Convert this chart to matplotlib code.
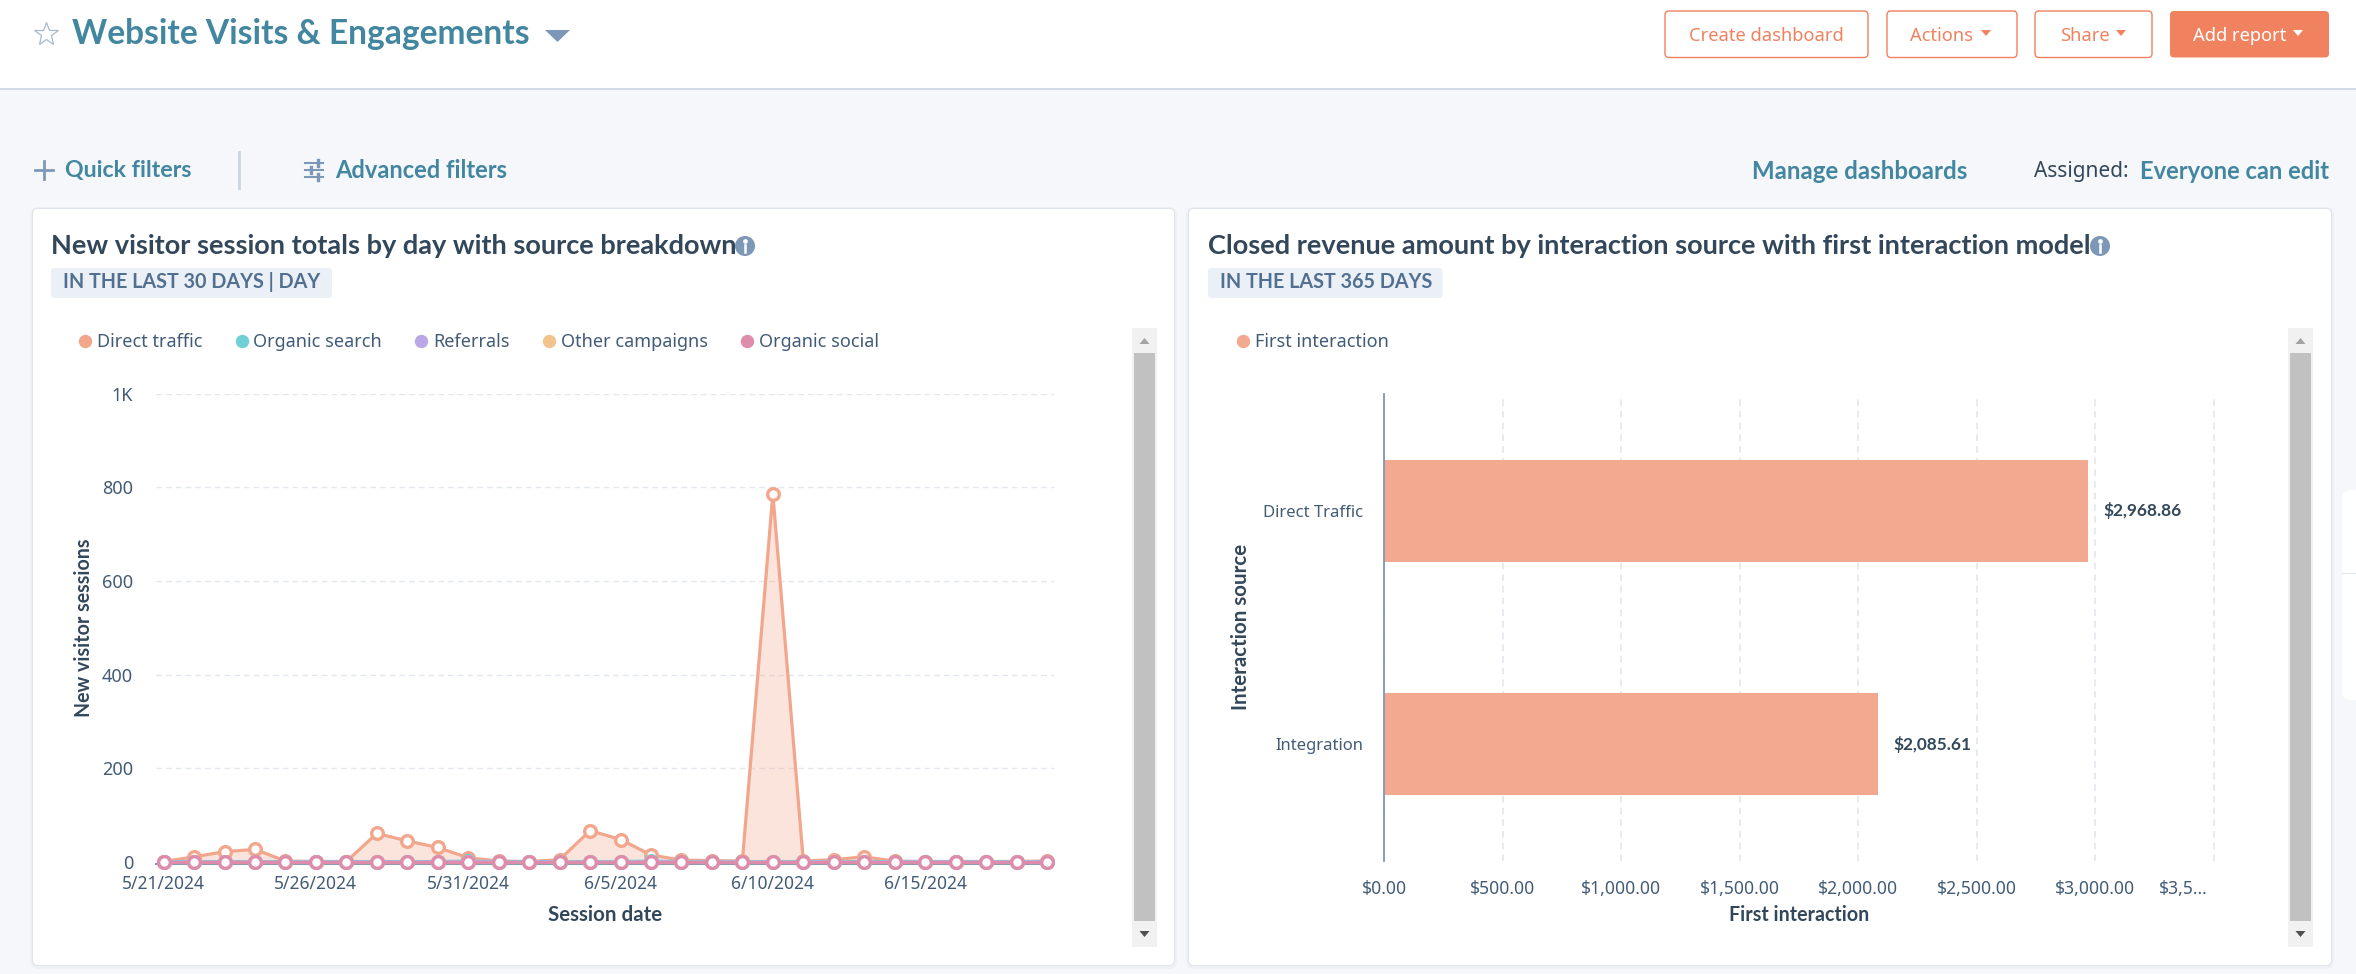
import matplotlib
matplotlib.use("Agg")
import matplotlib.pyplot as plt
from matplotlib.patches import FancyBboxPatch, Rectangle, Circle, Polygon
from matplotlib.lines import Line2D
from matplotlib.transforms import ScaledTranslation

W, H = 2356, 974
FONT = ["Noto Sans", "DejaVu Sans"]
BOLD = ["Lato", "DejaVu Sans"]
plt.rcParams["font.family"] = FONT

# ---- data ----
dates = ["5/21/2024", "5/22/2024", "5/23/2024", "5/24/2024", "5/25/2024", "5/26/2024",
         "5/27/2024", "5/28/2024", "5/29/2024", "5/30/2024", "5/31/2024", "6/1/2024",
         "6/2/2024", "6/3/2024", "6/4/2024", "6/5/2024", "6/6/2024", "6/7/2024",
         "6/8/2024", "6/9/2024", "6/10/2024", "6/11/2024", "6/12/2024", "6/13/2024",
         "6/14/2024", "6/15/2024", "6/16/2024", "6/17/2024", "6/18/2024", "6/19/2024"]
direct_traffic = [1, 11, 22, 27, 2, 1, 1, 61, 45, 31, 9, 2, 1, 5, 67, 48, 15, 4, 3, 2,
                  786, 2, 5, 11, 2, 1, 1, 1, 1, 2]
organic_search = [1, 1, 1, 1, 1, 1, 1, 1, 1, 1, 2, 1, 1, 1, 1, 1, 2, 1, 1, 1,
                  1, 1, 1, 1, 1, 1, 1, 1, 1, 1]
referrals = [0, 0, 0, 0, 0, 0, 0, 0, 0, 0, 1, 0, 0, 0, 0, 0, 1, 0, 0, 0,
             0, 0, 0, 0, 0, 0, 0, 0, 0, 0]
other_campaigns = [0] * 30
organic_social = [0] * 30
series_names = ["Direct traffic", "Organic search", "Referrals", "Other campaigns", "Organic social"]
series_values = [direct_traffic, organic_search, referrals, other_campaigns, organic_social]
series_colors = ["#f2a68c", "#6fd1d6", "#b9a7e6", "#f0c48c", "#dd8cab"]
y_ticks = [0, 200, 400, 600, 800, 1000]
y_tick_labels = ["0", "200", "400", "600", "800", "1K"]

sources = ["Direct Traffic", "Integration"]
revenue = [2968.86, 2085.61]
revenue_labels = ["$2,968.86", "$2,085.61"]
x_ticks = [0, 500, 1000, 1500, 2000, 2500, 3000, 3500]
x_tick_labels = ["$0.00", "$500.00", "$1,000.00", "$1,500.00", "$2,000.00", "$2,500.00", "$3,000.00", "$3,5..."]

# ---- colours ----
TEAL = "#42869f"
DARK = "#33475b"
MID = "#516f90"
TICK = "#425b76"
GRID = "#e3e7ee"
ORANGE = "#f0825f"
SLATE = "#7c98b6"

fig = plt.figure(figsize=(W / 100, H / 100), dpi=100, facecolor="#f5f7fa")
bg = fig.add_axes([0, 0, 1, 1])
bg.set_xlim(0, W)
bg.set_ylim(H, 0)
bg.axis("off")


def rbox(x0, y0, x1, y1, r=4, fc="white", ec="none", lw=0, ax=bg, z=1):
    p = FancyBboxPatch((x0 + r, y0 + r), x1 - x0 - 2 * r, y1 - y0 - 2 * r,
                       boxstyle=f"round,pad={r},rounding_size={r}", fc=fc, ec=ec, lw=lw, zorder=z)
    ax.add_patch(p)


def txt(x, y, s, size, color=DARK, ha="left", va="center", **kw):
    return bg.text(x, y + 2, s, fontsize=size, color=color, ha=ha, va=va, zorder=5, **kw)


def btxt(x, y, s, size, color=DARK, ha="left", **kw):
    return txt(x, y, s, size, color, ha=ha, family=BOLD, fontweight="bold", **kw)


def tri(cx, cy, w, h, color, up=False):
    s = -1 if up else 1
    bg.add_patch(Polygon([(cx - w / 2, cy - s * h / 2), (cx + w / 2, cy - s * h / 2), (cx, cy + s * h / 2)],
                         fc=color, ec="none", zorder=5))


# header
bg.add_patch(Rectangle((0, 0), W, 88, fc="white", ec="none", zorder=1))
bg.plot([0, W], [88.5, 88.5], color="#cbd6e2", lw=1.2, zorder=2)
bg.plot([46], [33.5], marker="*", ms=18, mfc="white", mec="#a9b9cc", mew=0.9, zorder=5)
btxt(72, 32, "Website Visits & Engagements", 24.15, TEAL)
tri(557.5, 36, 25, 12, SLATE)

# buttons
for x0, x1 in [(1665, 1868), (1887, 2017), (2035, 2152)]:
    rbox(x0, 11, x1, 57.5, r=4, fc="white", ec=ORANGE, lw=1.0)
rbox(2170, 11, 2329, 57.5, r=4, fc=ORANGE)
txt(1766.5, 34, "Create dashboard", 13.2, ORANGE, ha="center")
txt(1942, 34, "Actions", 13.2, ORANGE, ha="center")
tri(1986, 33, 10, 6, ORANGE)
txt(2084.5, 34, "Share", 13.2, ORANGE, ha="center")
tri(2121, 33, 10, 6, ORANGE)
txt(2240, 34, "Add report", 13.2, "white", ha="center")
tri(2298, 33, 10, 6, "white")

# filter row
bg.plot([35, 53], [170, 170], color=SLATE, lw=2.0, zorder=5)
bg.plot([44, 44], [161, 179], color=SLATE, lw=2.0, zorder=5)
btxt(65, 168.5, "Quick filters", 16.7, TEAL)
bg.plot([238.5, 238.5], [152, 188], color="#cbd6e2", lw=2, zorder=5)
for yy, xk in [(163, 318), (170, 311), (177, 318)]:
    bg.plot([305, 323], [yy, yy], color=SLATE, lw=1.5, zorder=5)
    bg.plot([xk, xk], [yy - 3, yy + 3], color=SLATE, lw=2.4, zorder=5)
btxt(335, 168.5, "Advanced filters", 17, TEAL)
btxt(1752, 169.5, "Manage dashboards", 17.3, TEAL)
txt(2033.5, 169.5, "Assigned:", 15, DARK)
btxt(2140.5, 169.5, "Everyone can edit", 17.1, TEAL)

# cards
for x0, x1 in [(33, 1174), (1189, 2331)]:
    rbox(x0 - 3, 207, x1 + 3, 969, r=8, fc="#eef0f4", z=1)
    rbox(x0 - 1, 208, x1 + 1, 966, r=6, fc="#dfe3eb", z=1)
    rbox(x0, 209, x1, 965, r=5, fc="white", z=1.5)

# side tab at right edge
rbox(2342, 490, 2380, 700, r=8, fc="white", z=1.5)
bg.plot([2342, W], [573, 573], color="#e3e8ef", lw=1, zorder=2)

# card headers
cards = [(51, "New visitor session totals by day with source breakdown", 745, 51, 332, 63, "IN THE LAST 30 DAYS | DAY"),
         (1208.5, "Closed revenue amount by interaction source with first interaction model", 2100, 1208, 1442.5, 1220,
          "IN THE LAST 365 DAYS")]
for tx, title, icx, bx0, bx1, btx, badge in cards:
    btxt(tx, 243.5, title, 19.5, DARK)
    bg.add_patch(Circle((icx, 246), 10, fc=SLATE, ec="none", zorder=5))
    bg.plot([icx, icx], [245, 252], color="white", lw=1.8, zorder=6)
    bg.plot([icx], [240.5], marker="o", ms=2.4, color="white", zorder=6)
    rbox(bx0, 268, bx1, 298, r=3, fc="#eaf0f6", z=2)
    btxt(btx, 280.5, badge, 14.2, MID)

# scrollbars
for x0, x1 in [(1132, 1157), (2288, 2313)]:
    bg.add_patch(Rectangle((x0, 328), x1 - x0, 619, fc="#f1f1f1", ec="none", zorder=2))
    bg.add_patch(Rectangle((x0 + 2, 353), x1 - x0 - 4, 568, fc="#c1c1c1", ec="none", zorder=3))
    tri((x0 + x1) / 2, 341, 10, 6, "#a3a3a3", up=True)
    tri((x0 + x1) / 2, 934, 10, 6, "#505050")


def px_axes(x0, y0, x1, y1):
    a = fig.add_axes([x0 / W, 1 - y1 / H, (x1 - x0) / W, (y1 - y0) / H])
    a.patch.set_alpha(0)
    for s in a.spines.values():
        s.set_visible(False)
    return a


# ---- left chart ----
ax = px_axes(156, 393.6, 1054, 862)
xs = list(range(len(dates)))
ax.set_xlim(-0.25, 29.23)
ax.set_ylim(0, 1000)
ax.yaxis.grid(True, color=GRID, lw=1.0, ls=(0, (4, 3)))
ax.set_axisbelow(True)
ax.spines["bottom"].set_visible(True)
ax.spines["bottom"].set_color(SLATE)
ax.spines["bottom"].set_linewidth(1.5)
ax.spines["bottom"].set_position(("outward", 1.2))
ax.fill_between(xs, direct_traffic, 0, color=series_colors[0], alpha=0.3, lw=0, zorder=2)
for name, vals, col in zip(series_names, series_values, series_colors):
    ax.plot(xs, vals, color=col, lw=2.3, marker="o", ms=8.4, mfc="white", mec=col, mew=2.4,
            clip_on=False, zorder=3, label=name)
ax.set_xticks(xs[::5], dates[::5])
ax.set_yticks(y_ticks, y_tick_labels)
ax.tick_params(axis="y", length=0, labelsize=13, labelcolor=TICK, pad=16.5)
ax.tick_params(axis="x", length=0, labelsize=12.5, labelcolor=TICK, pad=8.5)
ax.set_xlabel("Session date", fontsize=14.8, fontweight="bold", family=BOLD, color=DARK, labelpad=8.5)
ax.set_ylabel("New visitor sessions", fontsize=14.1, fontweight="bold", family=BOLD, color=DARK, labelpad=6)
leg = ax.legend(*[list(t) for t in zip(*[(Line2D([], [], ls="none", marker="o", ms=8.6, mfc=c, mec=c), n)
                                         for n, c in zip(series_names, series_colors)])],
                ncols=5, frameon=False, fontsize=13, labelcolor=TICK, handletextpad=0.15, handlelength=1.0,
                columnspacing=1.68, loc="lower left", bbox_to_anchor=(76 / W, 1 - 351 / H),
                bbox_transform=fig.transFigure, borderaxespad=0, borderpad=0)

# ---- right chart ----
ax2 = px_axes(1384, 394, 2240, 861)
ypos = [0, 1]
ax2.set_xlim(0, 856 / 118.5 * 500)
ax2.set_ylim(1.5, -0.5)
ax2.xaxis.grid(True, color=GRID, lw=1.2, ls=(0, (4, 3)))
ax2.set_axisbelow(True)
ax2.spines["left"].set_visible(True)
ax2.spines["left"].set_color(SLATE)
ax2.spines["left"].set_linewidth(1.3)
bars = ax2.barh(ypos, revenue, height=0.437, color="#f2a990", zorder=2, label="First interaction")
ax2.set_yticks(ypos, sources)
ax2.set_xticks(x_ticks, x_tick_labels)
ax2.tick_params(axis="x", length=0, labelsize=12.6, labelcolor=TICK, pad=14)
ax2.tick_params(axis="y", length=0, labelsize=12, labelcolor=TICK, pad=15)
ax2.get_xticklabels()[-1].set_transform(
    ax2.get_xticklabels()[-1].get_transform() + ScaledTranslation(-30 / 100, 0, fig.dpi_scale_trans))
for v, lab in zip(ypos, revenue_labels):
    ax2.annotate(lab, (revenue[v], v), xytext=(11, 0), textcoords="offset points", va="center", ha="left",
                 fontsize=12.4, fontweight="bold", family=BOLD, color=DARK, zorder=4)
btxt(1799, 913, "First interaction", 14.1, DARK, ha="center")
btxt(1241, 625, "Interaction source", 14.8, DARK, ha="center", rotation=90, rotation_mode="anchor")
ax2.legend(handles=[Line2D([], [], ls="none", marker="o", ms=8.6, mfc="#f2a990", mec="#f2a990")],
           labels=["First interaction"], frameon=False, fontsize=13, labelcolor=TICK, handletextpad=0.15,
           handlelength=1.0, loc="lower left", bbox_to_anchor=(1234 / W, 1 - 351 / H),
           bbox_transform=fig.transFigure, borderaxespad=0, borderpad=0)

fig.savefig("out.png", dpi=100, facecolor=fig.get_facecolor())
